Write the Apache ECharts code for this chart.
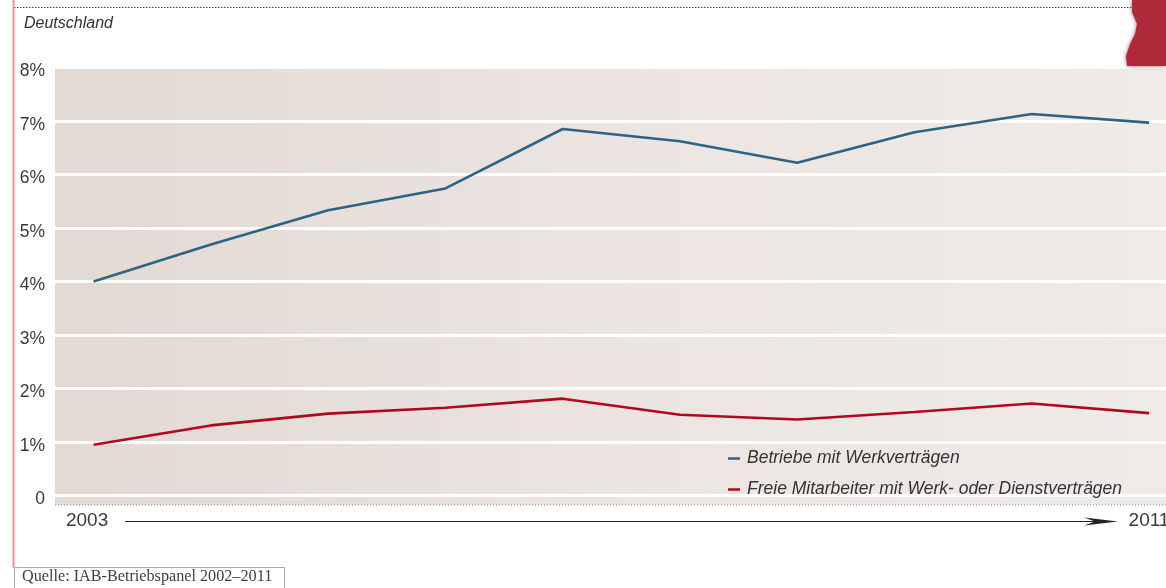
<!DOCTYPE html>
<html>
<head>
<meta charset="utf-8">
<script src="https://cdn.jsdelivr.net/npm/echarts@6/dist/echarts.min.js"></script>
<style>
  html, body { margin: 0; padding: 0; background: #ffffff; }
  #chart { width: 1166px; height: 588px; }
</style>
</head>
<body>
<div id="chart"></div>
<script>
// Survey waves, first and last labelled on the axis
const xLabels = ['2003', '', '', '', '', '', '', '', '', '2011'];
// Share of establishments (%)
const werkvertraege = [4.0, 4.69, 5.33, 5.74, 6.85, 6.62, 6.22, 6.79, 7.13, 6.97];
const freieMitarbeiter = [0.95, 1.31, 1.53, 1.64, 1.81, 1.51, 1.42, 1.56, 1.72, 1.54];
const seriesNames = ['Betriebe mit Werkverträgen', 'Freie Mitarbeiter mit Werk- oder Dienstverträgen'];
const yTicks = ['0', '1%', '2%', '3%', '4%', '5%', '6%', '7%', '8%'];

const chart = echarts.init(document.getElementById('chart'), null, { renderer: 'canvas' });

const PLOT_TOP = 67.5;
const PLOT_BOTTOM = 92.5;   // distance from bottom of canvas to the 0 line
const sans = '"Liberation Sans", Arial, sans-serif';

chart.setOption({
  animation: false,
  backgroundColor: '#ffffff',
  grid: [
    // frame carrying the y scale and the white grid lines
    { left: 55, right: 0, top: PLOT_TOP, bottom: PLOT_BOTTOM, containLabel: false, outerBoundsMode: 'none' },
    // frame carrying the two series
    { left: 93.6, right: 17, top: PLOT_TOP, bottom: PLOT_BOTTOM, containLabel: false, outerBoundsMode: 'none' }
  ],
  xAxis: [
    { gridIndex: 0, type: 'category', data: xLabels, show: false },
    {
      gridIndex: 1, type: 'category', data: xLabels, boundaryGap: false,
      axisLine: { show: false }, axisTick: { show: false }, splitLine: { show: false },
      axisLabel: {
        interval: 0, margin: 16, color: '#3a3a3a',
        fontFamily: sans, fontSize: 19,
        formatter: (v, i) => v === '' ? '' : (i === 0 ? '{first|' + v + '}' : '{last|' + v + '}'),
        rich: {
          first: { fontFamily: sans, fontSize: 19, color: '#3a3a3a', padding: [0, 13, 0, 0] },
          last: { fontFamily: sans, fontSize: 19, color: '#3a3a3a', padding: [0, 0, 0, 0] }
        }
      }
    }
  ],
  yAxis: [
    {
      gridIndex: 0, type: 'value', min: 0, max: 8, interval: 1,
      axisLine: { show: false }, axisTick: { show: false },
      axisLabel: {
        margin: 10, color: '#3a3a3a', fontFamily: sans, fontSize: 17.5,
        verticalAlign: 'top', lineHeight: 8,
        formatter: v => yTicks[Math.round(v)]
      },
      splitLine: { show: true, lineStyle: { color: '#ffffff', width: 3 } }
    },
    { gridIndex: 1, type: 'value', min: 0, max: 8, interval: 1, show: false, splitLine: { show: false } }
  ],
  legend: {
    orient: 'vertical', left: 723, top: 444,
    icon: 'rect', itemWidth: 12, itemHeight: 2.5, itemGap: 12,
    data: seriesNames,
    textStyle: {
      color: '#333333', fontFamily: sans, fontSize: 17.5, fontStyle: 'italic',
      lineHeight: 19, padding: [0, 0, 0, 2]
    }
  },
  series: [
    {
      name: seriesNames[0], type: 'line', xAxisIndex: 1, yAxisIndex: 1,
      data: werkvertraege, showSymbol: false, symbol: 'none',
      color: '#2d6384', lineStyle: { color: '#2d6384', width: 2.6 }, z: 5
    },
    {
      name: seriesNames[1], type: 'line', xAxisIndex: 1, yAxisIndex: 1,
      data: freieMitarbeiter, showSymbol: false, symbol: 'none',
      color: '#b2081d', lineStyle: { color: '#b2081d', width: 2.6 }, z: 5
    }
  ],
  graphic: [
    // plot background with a soft horizontal gradient
    {
      type: 'rect', z: -10, silent: true,
      shape: { x: 55, y: PLOT_TOP, width: 1111, height: 505 - PLOT_TOP },
      style: {
        fill: new echarts.graphic.LinearGradient(0, 0, 1, 0, [
          { offset: 0, color: '#e2d9d3' },
          { offset: 0.55, color: '#ece5e2' },
          { offset: 1, color: '#efebe8' }
        ])
      }
    },
    // dotted base line of the plot
    {
      type: 'line', z: 1, silent: true,
      shape: { x1: 55, y1: 505, x2: 1166, y2: 505 },
      style: { stroke: '#8a8a8a', lineWidth: 1, lineDash: [1, 2] }
    },
    // time arrow between the first and last year
    {
      type: 'line', z: 1, silent: true,
      shape: { x1: 125, y1: 521.5, x2: 1100, y2: 521.5 },
      style: { stroke: '#222222', lineWidth: 1.2 }
    },
    {
      type: 'polygon', z: 1, silent: true,
      shape: { points: [[1084, 517.5], [1118, 521.5], [1084, 525.5], [1095, 521.5]] },
      style: { fill: '#222222' }
    },
    // region caption
    {
      type: 'text', left: 24, top: 16, silent: true,
      style: { text: 'Deutschland', fill: '#333333', font: 'italic 16px "Liberation Sans", Arial, sans-serif' }
    },
    // dotted rule at the top
    {
      type: 'line', z: 1, silent: true,
      shape: { x1: 14, y1: 7.5, x2: 1132, y2: 7.5 },
      style: { stroke: '#444444', lineWidth: 1, lineDash: [1.5, 1.5] }
    },
    // red margin rule on the left
    {
      type: 'line', z: 1, silent: true,
      shape: { x1: 13.5, y1: 0, x2: 13.5, y2: 568 },
      style: { stroke: '#f29298', lineWidth: 2 }
    },
    // red corner decoration
    {
      type: 'polygon', z: 1, silent: true,
      shape: { points: [[1132, 0], [1166, 0], [1166, 66], [1127, 66], [1126, 56], [1130, 44], [1135, 34], [1137, 24], [1132, 12]] },
      style: { fill: '#b0293a', shadowBlur: 4, shadowColor: 'rgba(176,41,58,0.8)' }
    },
    // source box
    {
      type: 'rect', z: 1, silent: true,
      shape: { x: 14.5, y: 567.5, width: 270, height: 30 },
      style: { fill: '#ffffff', stroke: '#a8a8a8', lineWidth: 1 }
    },
    {
      type: 'text', z: 2, left: 22, top: 569, silent: true,
      style: { text: 'Quelle: IAB-Betriebspanel 2002–2011', fill: '#404040', font: '16.2px "Liberation Serif", "DejaVu Serif", serif' }
    }
  ]
});
</script>
</body>
</html>
